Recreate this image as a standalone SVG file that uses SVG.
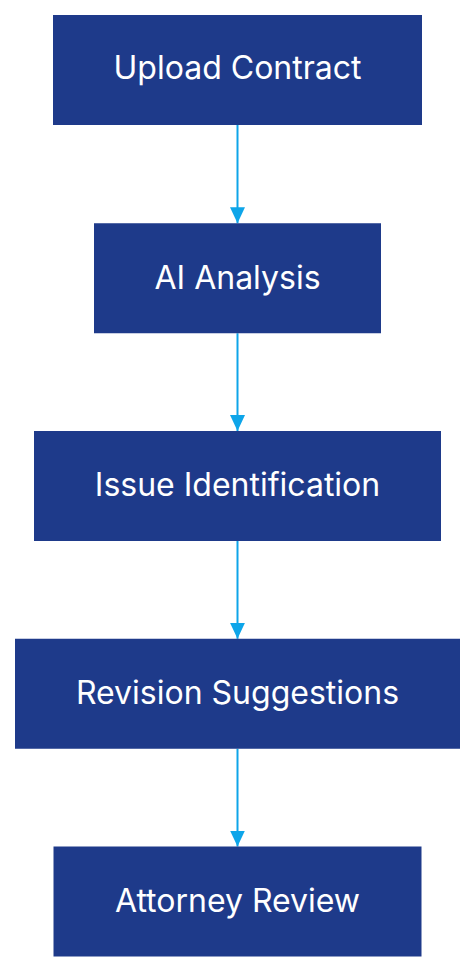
<svg xmlns="http://www.w3.org/2000/svg" width="476" height="972" viewBox="0 0 476 972">
<style>
.box{fill:#1e3a8a}
.lbl{fill:#ffffff;font-family:Inter,"Noto Sans","Liberation Sans",sans-serif;font-size:32px;text-anchor:middle}
.edge{stroke:#0ea5e9;stroke-width:2;fill:none}
</style>
<defs>
<marker id="ah" viewBox="0 0 16 15" refX="16" refY="7.5" markerWidth="16" markerHeight="15" markerUnits="userSpaceOnUse" orient="auto">
<path d="M0,0 L16,7.5 L0,15 Z" fill="#0ea5e9"/>
</marker>
</defs>
<g id="connectors">
<path class="edge" d="M237.5,125 V223.25" marker-end="url(#ah)"/>
<path class="edge" d="M237.5,333.25 V431" marker-end="url(#ah)"/>
<path class="edge" d="M237.5,541 V638.75" marker-end="url(#ah)"/>
<path class="edge" d="M237.5,748.75 V846.5" marker-end="url(#ah)"/>
</g>
<g id="n1"><rect class="box" x="53" y="15" width="369" height="110"/><text class="lbl" x="237.5" y="79.3">Upload Contract</text></g>
<g id="n2"><rect class="box" x="94" y="223.25" width="287" height="110"/><text class="lbl" x="237.5" y="288.5">AI Analysis</text></g>
<g id="n3"><rect class="box" x="34" y="431" width="407" height="110"/><text class="lbl" x="237.5" y="496.2">Issue Identification</text></g>
<g id="n4"><rect class="box" x="15" y="638.75" width="445" height="110"/><text class="lbl" x="237.5" y="704.2">Revision Suggestions</text></g>
<g id="n5"><rect class="box" x="53.5" y="846.5" width="368" height="110"/><text class="lbl" x="237.5" y="912.2">Attorney Review</text></g>
</svg>
